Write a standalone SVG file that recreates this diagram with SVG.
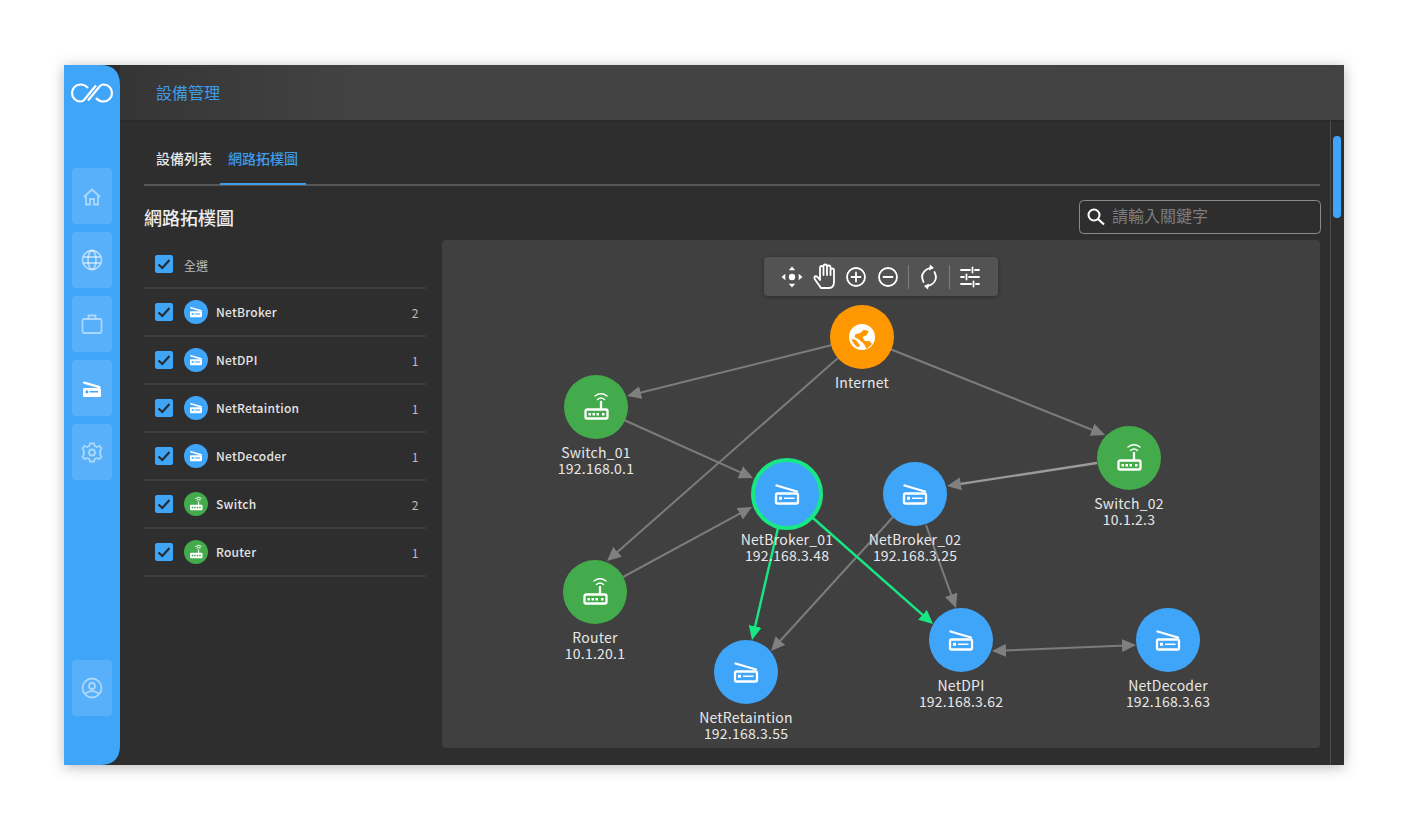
<svg xmlns="http://www.w3.org/2000/svg" xmlns:xlink="http://www.w3.org/1999/xlink" width="1408" height="830" viewBox="0 0 1408 830">
<style>
text{font-family:"Noto Sans CJK TC","Noto Sans",sans-serif}
.nl{font-size:14px;fill:#e8e8e8;text-anchor:middle;letter-spacing:.22px}
.rl{font-size:12px;font-weight:500;fill:#e4e4e4;letter-spacing:.25px}
.ct{font-size:12px;fill:#bdbdbd;text-anchor:middle}
.sep{stroke:#3e3e3e;stroke-width:2}
.sb{fill:#fff;fill-opacity:.13}
.si{fill:none;stroke:#fff;stroke-opacity:.5;stroke-width:1.8}
.tb{fill:none;stroke:#fff;stroke-width:1.8;stroke-linecap:round;stroke-linejoin:round}
.gl{fill:none;stroke:#7c7c7c;stroke-width:2}
.gr{fill:none;stroke:#17e884;stroke-width:2.4}
.ic{fill:none;stroke:#fff;stroke-width:2.300;stroke-linecap:round;stroke-linejoin:round}
</style>
<defs>
<filter id="ws" x="-5%" y="-5%" width="110%" height="110%"><feDropShadow dx="0" dy="2" stdDeviation="7" flood-color="#000" flood-opacity=".28"/></filter>
<filter id="ts" x="-5%" y="-20%" width="110%" height="150%"><feDropShadow dx="0" dy="1" stdDeviation="2" flood-color="#000" flood-opacity=".35"/></filter>
<linearGradient id="hd" x1="0" x2="1" y1="0" y2="0"><stop offset="0" stop-color="#353535"/><stop offset=".2" stop-color="#434343"/><stop offset="1" stop-color="#424242"/></linearGradient>
<marker id="ag" markerUnits="userSpaceOnUse" markerWidth="16" markerHeight="14" refX="10" refY="7" orient="auto-start-reverse"><path d="M0 .5L14 7L0 13.5Z" fill="#808080"/></marker>
<marker id="ae" markerUnits="userSpaceOnUse" markerWidth="16" markerHeight="14" refX="10" refY="7" orient="auto-start-reverse"><path d="M0 .5L14 7L0 13.5Z" fill="#17e884"/></marker>
<symbol id="scan" overflow="visible" viewBox="-14 -12 28 24" width="28" height="24">
<path class="ic" d="M-10.500 -8.500L10 -2.500"/><path class="ic" d="M-9.500 -.5H9.500Q11 -.5 11 1V8Q11 9.500 9.500 9.500H-9.500Q-11 9.500 -11 8V1Q-11 -.5 -9.500 -.5Z"/>
<path d="M-8 2.800h3v3h-3zM-3 3.500h10.500v1.600h-10.500z" fill="#fff"/>
</symbol>
<symbol id="scanf" overflow="visible" viewBox="-14 -12 28 24" width="28" height="24">
<path d="M-10.500 -8.500L10 -2.500" stroke="#fff" stroke-width="3" stroke-linecap="round"/><rect x="-12" y="-1.500" width="24" height="12" rx="2" fill="#fff"/>
<path d="M-8.500 2h3.500v3.500h-3.500zM-3 2.800h11v2h-11z" fill="#3fa5f9"/>
</symbol>
<symbol id="rout" overflow="visible" viewBox="-14 -14 28 28" width="28" height="28">
<rect class="ic" x="-10.500" y="2.500" width="22" height="9" rx="1.500"/>
<path class="ic" d="M5 2V-5"/>
<path class="ic" d="M1.500 -7.500Q5 -10.500 8.500 -7.500M-1 -11Q5 -15.500 11 -11" style="stroke-width:1.500"/>
<path d="M-7.500 6h2.500v2.500h-2.500zM-3.500 6h2.500v2.500h-2.500zM.5 6h2.500v2.500h-2.500zM6 6h2.500v2.500h-2.500z" fill="#fff"/>
</symbol>
<symbol id="routf" overflow="visible" viewBox="-14 -14 28 28" width="28" height="28">
<rect x="-12" y="1.500" width="25" height="11" rx="2" fill="#fff"/>
<path d="M5 2V-5" stroke="#fff" stroke-width="2.500"/>
<path d="M1 -7.500Q5 -10.500 9 -7.500M-1 -11Q5 -15.500 11 -11" fill="none" stroke="#fff" stroke-width="2"/>
<path d="M-8.500 5.500h3v3h-3zM-3.500 5.500h3v3h-3zM1.500 5.500h3v3h-3zM6.500 5.500h3v3h-3z" fill="#43ab4b"/>
</symbol>
<symbol id="cb" overflow="visible" viewBox="0 0 18 18" width="18" height="18"><rect width="18" height="18" rx="2" fill="#3fa5f9"/><path d="M3.500 9.500L7.300 13L14.500 5" fill="none" stroke="#2a2a2a" stroke-width="2.200"/></symbol>
</defs>
<rect width="1408" height="830" fill="#fff"/>
<g id="window">
<rect x="64" y="65" width="1280" height="700" fill="#2f2f2f" filter="url(#ws)"/>
<rect x="120" y="65" width="1224" height="56" fill="url(#hd)"/>
<rect x="120" y="120" width="1224" height="2" fill="#2a2a2a"/>
<path d="M1330.500 121V765" stroke="#4d4d4d" stroke-width="1"/>
<rect x="1333" y="136" width="8" height="82" rx="4" fill="#3fa5f9"/>
<text x="156" y="99" font-size="16" fill="#3f9de8">設備管理</text>
</g>
<g id="sidebar">
<path d="M64 65H100Q120 65 120 85V745Q120 765 100 765H64Z" fill="#3fa5f9"/>
<g fill="none" stroke="#fff" stroke-width="2.200"><path d="M96 85.500L84 100Q82.500 101.500 80.500 101.500A8.500 8.500 0 0 1 80.500 84.500Q85 84.500 88 88"/><path d="M88 100.500L100 86Q101.500 84.500 103.500 84.500A8.500 8.500 0 0 1 103.500 101.500Q99 101.500 96 98"/></g>
<rect class="sb" x="72" y="168" width="40" height="56" rx="4"/>
<rect class="sb" x="72" y="232" width="40" height="56" rx="4"/>
<rect class="sb" x="72" y="296" width="40" height="56" rx="4"/>
<rect class="sb" x="72" y="360" width="40" height="56" rx="4"/>
<rect class="sb" x="72" y="424" width="40" height="56" rx="4"/>
<rect class="sb" x="72" y="660" width="40" height="56" rx="4"/>
<path class="si" d="M84 197L92 189.500L100 197M86 195.500V204.500H90V199H94V204.500H98V195.500"/>
<g class="si"><circle cx="92" cy="260" r="9.500"/><ellipse cx="92" cy="260" rx="4" ry="9.500"/><path d="M83.500 257H100.500M83.500 263H100.500"/></g>
<g class="si"><rect x="82.500" y="319" width="19" height="14" rx="1.500"/><path d="M88.500 318.500V315.500H95.500V318.500"/></g>
<use href="#scanf" x="81.500" y="380" width="21" height="18"/>
<g class="si"><circle cx="92" cy="452.500" r="3"/><path d="M90 443.500H94L94.800 446L97 447L99.400 445.800L101.500 448.500L100 450.800L100.400 452.500L100 454.500L101.500 456.800L99.400 459.200L97 458L94.800 459L94 461.500H90L89.200 459L87 458L84.600 459.200L82.500 456.800L84 454.500L83.600 452.500L84 450.800L82.500 448.500L84.600 445.800L87 447L89.200 446Z"/></g>
<g class="si"><circle cx="92" cy="688" r="9.500"/><circle cx="92" cy="686" r="3"/><path d="M85.500 693.500Q92 688.500 98.500 693.500"/></g>
</g>
<g id="tabs">
<text x="156" y="164" font-size="14" font-weight="500" fill="#e8e8e8">設備列表</text>
<text x="228" y="164" font-size="14" font-weight="500" fill="#3f9de8">網路拓樸圖</text>
<rect x="144" y="184" width="1176" height="2" fill="#575757"/>
<rect x="220" y="183" width="86" height="2" fill="#3f9de8"/>
<text x="144" y="224.500" font-size="18" font-weight="500" fill="#ececec">網路拓樸圖</text>
</g>
<g id="search">
<rect x="1079.500" y="200.500" width="241" height="33" rx="4" fill="none" stroke="#8a8a8a"/>
<circle cx="1094" cy="215" r="5.500" fill="none" stroke="#fff" stroke-width="2"/><path d="M1098 219L1104 224.500" stroke="#fff" stroke-width="2.200"/>
<text x="1112" y="222" font-size="16" fill="#7d7d7d">請輸入關鍵字</text>
</g>
<g id="list">
<use href="#cb" x="155" y="255"/><text x="184" y="271" font-size="12" fill="#bdbdbd">全選</text>
<path class="sep" d="M144 288H426M144 336H426M144 384H426M144 432H426M144 480H426M144 528H426M144 576H426"/>
<g id="row-netbroker"><use href="#cb" x="155" y="303"/><circle cx="196" cy="312" r="12" fill="#3fa5f9"/><use href="#scanf" x="189" y="306" width="14" height="12"/><text class="rl" x="216" y="317">NetBroker</text><text class="ct" x="415" y="318">2</text></g>
<g id="row-netdpi"><use href="#cb" x="155" y="351"/><circle cx="196" cy="360" r="12" fill="#3fa5f9"/><use href="#scanf" x="189" y="354" width="14" height="12"/><text class="rl" x="216" y="365">NetDPI</text><text class="ct" x="415" y="366">1</text></g>
<g id="row-netretaintion"><use href="#cb" x="155" y="399"/><circle cx="196" cy="408" r="12" fill="#3fa5f9"/><use href="#scanf" x="189" y="402" width="14" height="12"/><text class="rl" x="216" y="413">NetRetaintion</text><text class="ct" x="415" y="414">1</text></g>
<g id="row-netdecoder"><use href="#cb" x="155" y="447"/><circle cx="196" cy="456" r="12" fill="#3fa5f9"/><use href="#scanf" x="189" y="450" width="14" height="12"/><text class="rl" x="216" y="461">NetDecoder</text><text class="ct" x="415" y="462">1</text></g>
<g id="row-switch"><use href="#cb" x="155" y="495"/><circle cx="196" cy="504" r="12" fill="#43ab4b"/><use href="#routf" x="189" y="497" width="14" height="14"/><text class="rl" x="216" y="509">Switch</text><text class="ct" x="415" y="510">2</text></g>
<g id="row-router"><use href="#cb" x="155" y="543"/><circle cx="196" cy="552" r="12" fill="#43ab4b"/><use href="#routf" x="189" y="545" width="14" height="14"/><text class="rl" x="216" y="557">Router</text><text class="ct" x="415" y="558">1</text></g>
</g>
<rect id="panel" x="442" y="240" width="878" height="508" rx="4" fill="#404040"/>
<g id="toolbar">
<rect x="764" y="257" width="234" height="39" rx="4" fill="#525252" filter="url(#ts)"/>
<circle cx="792" cy="277" r="3.200" fill="#fff"/>
<path d="M792 266.500l3.200 3.800h-6.400zM792 287.500l3.200 -3.800h-6.400zM781.500 277l3.800 -3.200v6.400zM802.500 277l-3.800 -3.200v6.400z" fill="#fff"/>
<path class="tb" d="M821 288H829Q834 288 834 282V270.500Q834 268.500 832.300 268.500Q830.500 268.500 830.500 270.500V275V267.500Q830.500 265.500 828.800 265.500Q827 265.500 827 267.500V275V266.500Q827 264.500 825.300 264.500Q823.500 264.500 823.500 266.500V275V268Q823.500 266 821.800 266Q820 266 820 268V280L817.500 277Q815.500 275.500 814.500 277Q814 278 815 279.500L821 288"/>
<g class="tb"><circle cx="856" cy="277" r="9"/><path d="M851.500 277H860.500M856 272.500V281.500"/></g>
<g class="tb"><circle cx="888" cy="277" r="9"/><path d="M883.500 277H892.500"/></g>
<path d="M908.500 265V289M949.500 265V289" stroke="#7e7e7e" stroke-width="1"/>
<g class="tb"><path d="M923.500 282Q919.500 274 926.500 269.500L931 267.500M934.500 272Q938.500 280 931.500 284.500L927 286.500"/></g>
<path d="M930 264.500L934 268L929 270.500ZM928 289.500L924 286L929 283.500Z" fill="#fff"/>
<g class="tb"><path d="M961 270H970M975 270H979M961 277H964M969 277H979M961 284H971M976 284H979M972.500 267.500V272.500M966.500 274.500V279.500M973.500 281.500V286.500"/></g>
</g>
<g id="connectors">
<path class="gl" d="M832 345L631 395" marker-end="url(#ag)"/>
<path class="gl" d="M890 349L1101.300 433.500" marker-end="url(#ag)"/>
<path class="gl" d="M838 358L610 558.400" marker-end="url(#ag)"/>
<path class="gl" d="M624 420L749.400 476.400" marker-end="url(#ag)"/>
<path class="gl" d="M623 577L748.500 508.900" marker-end="url(#ag)"/>
<path class="gl" d="M1097 463L951 485.400" marker-end="url(#ag)" style="stroke:#9a9a9a;stroke-width:2.400"/>
<path class="gl" d="M926 525L954.600 604.200" marker-end="url(#ag)"/>
<path class="gl" d="M893 517L773.700 648" marker-end="url(#ag)"/>
<path class="gl" d="M996 650.800L1132 645.200" marker-start="url(#ag)" marker-end="url(#ag)"/>
<path class="gr" d="M778 528L752.900 636.100" marker-end="url(#ae)"/>
<path class="gr" d="M813 518L930 621.400" marker-end="url(#ae)"/>
</g>
<g id="node-internet"><circle cx="862" cy="337" r="32" fill="#ff9800"/>
<circle cx="862" cy="337" r="13" fill="#fff"/><path d="M855.300 334.300L860.300 333L863.700 329.700L868.700 331L866.700 335L862.700 337L864.700 341L869.300 341L872 344L866.500 349L864 344L859 339.500L854.500 337Z" fill="#ff9800"/><path d="M851.500 339Q853 344 858 347.500L860 345.500L856 340Z" fill="#ff9800"/>
<text class="nl" x="862" y="387.500">Internet</text></g>
<g id="node-switch01"><circle cx="596" cy="407" r="32" fill="#43ab4b"/><use href="#rout" x="582" y="393"/><text class="nl" x="596" y="457.500"><tspan x="596">Switch_01</tspan><tspan x="596" dy="16">192.168.0.1</tspan></text></g>
<g id="node-switch02"><circle cx="1129" cy="458" r="32" fill="#43ab4b"/><use href="#rout" x="1115" y="444"/><text class="nl" x="1129" y="508.500"><tspan x="1129">Switch_02</tspan><tspan x="1129" dy="16">10.1.2.3</tspan></text></g>
<g id="node-router"><circle cx="595" cy="592" r="32" fill="#43ab4b"/><use href="#rout" x="581" y="578"/><text class="nl" x="595" y="642.500"><tspan x="595">Router</tspan><tspan x="595" dy="16">10.1.20.1</tspan></text></g>
<g id="node-netbroker01"><circle cx="787" cy="494" r="34" fill="#3fa5f9" stroke="#17e884" stroke-width="4"/><use href="#scan" x="773" y="482"/><text class="nl" x="787" y="544.500"><tspan x="787">NetBroker_01</tspan><tspan x="787" dy="16">192.168.3.48</tspan></text></g>
<g id="node-netbroker02"><circle cx="915" cy="494" r="32" fill="#3fa5f9"/><use href="#scan" x="901" y="482"/><text class="nl" x="915" y="544.500"><tspan x="915">NetBroker_02</tspan><tspan x="915" dy="16">192.168.3.25</tspan></text></g>
<g id="node-netdpi"><circle cx="961" cy="640" r="32" fill="#3fa5f9"/><use href="#scan" x="947" y="628"/><text class="nl" x="961" y="690.500"><tspan x="961">NetDPI</tspan><tspan x="961" dy="16">192.168.3.62</tspan></text></g>
<g id="node-netdecoder"><circle cx="1168" cy="640" r="32" fill="#3fa5f9"/><use href="#scan" x="1154" y="628"/><text class="nl" x="1168" y="690.500"><tspan x="1168">NetDecoder</tspan><tspan x="1168" dy="16">192.168.3.63</tspan></text></g>
<g id="node-netretaintion"><circle cx="746" cy="672" r="32" fill="#3fa5f9"/><use href="#scan" x="732" y="660"/><text class="nl" x="746" y="722.500"><tspan x="746">NetRetaintion</tspan><tspan x="746" dy="16">192.168.3.55</tspan></text></g>
</svg>
